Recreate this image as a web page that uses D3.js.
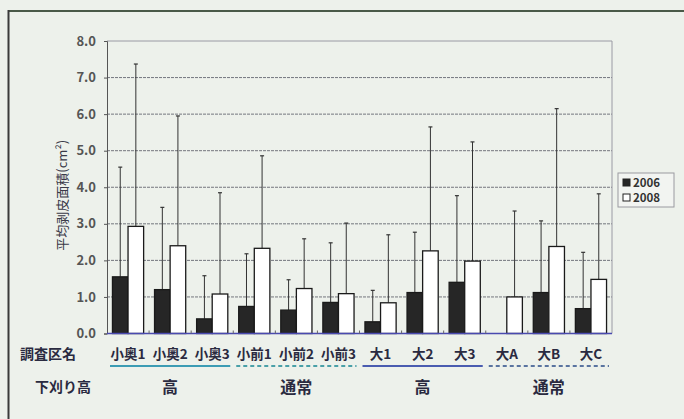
<!DOCTYPE html>
<html>
<head>
<meta charset="utf-8">
<script src="https://cdn.jsdelivr.net/npm/d3@7"></script>
<style>
  html, body { margin: 0; padding: 0; background: #edf1eb; }
  svg { display: block; }
  text { font-family: "Noto Sans CJK JP", "Noto Sans", sans-serif; }
</style>
</head>
<body>
<svg id="chart" width="684" height="419"></svg>
<script>
// Survey plots and their mean bark-stripped area (cm²); upper = mean + SD
const categories = ["小奥1", "小奥2", "小奥3", "小前1", "小前2", "小前3", "大1", "大2", "大3", "大A", "大B", "大C"];
const mean2006 = [1.55, 1.20, 0.40, 0.74, 0.64, 0.85, 0.32, 1.12, 1.40, 0, 1.12, 0.68];
const upper2006 = [4.55, 3.45, 1.58, 2.18, 1.47, 2.48, 1.18, 2.77, 3.77, null, 3.08, 2.22];
const mean2008 = [2.93, 2.40, 1.08, 2.33, 1.23, 1.09, 0.84, 2.26, 1.98, 1.00, 2.38, 1.48];
const upper2008 = [7.37, 5.95, 3.85, 4.86, 2.59, 3.02, 2.70, 5.65, 5.24, 3.35, 6.15, 3.82];
const yTicks = [0, 1, 2, 3, 4, 5, 6, 7, 8];
const seriesNames = ["2006", "2008"];
// Undergrowth-cutting height groups
const groups = [
  { label: "高", from: 0, to: 2, dashed: false, color: "#3c9cb4" },
  { label: "通常", from: 3, to: 5, dashed: true, color: "#4aa0a8" },
  { label: "高", from: 6, to: 8, dashed: false, color: "#4a5cb0" },
  { label: "通常", from: 9, to: 11, dashed: true, color: "#5a74a0" }
];

const svg = d3.select("#chart");
const plot = { left: 107, right: 612, top: 41, bottom: 333.5 };

const x = d3.scaleBand().domain(categories).range([plot.left, plot.right]).paddingInner(0).paddingOuter(0);
const xs = d3.scaleBand().domain(seriesNames).range([0, x.bandwidth()]).paddingInner(0).paddingOuter(0.35);
const y = d3.scaleLinear().domain([0, 8]).range([plot.bottom, plot.top]);

// outer frame (top and left edges)
svg.append("line").attr("x1", 8).attr("x2", 684).attr("y1", 11).attr("y2", 11)
  .attr("stroke", "#4a5a48").attr("stroke-width", 2);
svg.append("line").attr("x1", 8.5).attr("x2", 8.5).attr("y1", 10).attr("y2", 419)
  .attr("stroke", "#3a3a3a").attr("stroke-width", 2);

// gridlines
svg.append("g").selectAll("line").data(yTicks.filter(d => d > 0)).join("line")
  .attr("x1", plot.left).attr("x2", plot.right)
  .attr("y1", d => y(d)).attr("y2", d => y(d))
  .attr("stroke", d => d === 8 ? "#9a9aa4" : "#74767e")
  .attr("stroke-width", 1)
  .attr("stroke-dasharray", d => d === 8 ? null : "3,1");

// plot border (right side)
svg.append("line").attr("x1", plot.right).attr("x2", plot.right).attr("y1", plot.top).attr("y2", plot.bottom)
  .attr("stroke", "#9a9aa4").attr("stroke-width", 1);

// y axis
const yAxis = d3.axisLeft(y).tickValues(yTicks).tickFormat(d3.format(".1f")).tickSize(3).tickPadding(8);
const gy = svg.append("g").attr("transform", `translate(${plot.left},0)`).call(yAxis);
gy.select(".domain").attr("stroke", "#555");
gy.selectAll(".tick line").attr("stroke", "#555");
gy.selectAll("text").attr("font-size", 13).attr("font-weight", "bold").attr("fill", "#555")
  .attr("font-family", "Liberation Sans, Arial, sans-serif");

// y axis title
svg.append("text")
  .attr("transform", `translate(67,${(plot.top + plot.bottom) / 2 + 8}) rotate(-90)`)
  .attr("text-anchor", "middle")
  .attr("font-size", 13).attr("fill", "#3a3a48")
  .text("平均剥皮面積(cm²)");

// bars
const series = [
  { name: "2006", mean: mean2006, upper: upper2006, fill: "#262626" },
  { name: "2008", mean: mean2008, upper: upper2008, fill: "#ffffff" }
];

series.forEach(s => {
  const g = svg.append("g");
  const rows = categories.map((c, i) => ({ c, m: s.mean[i], u: s.upper[i] }));
  // error bars (upper only)
  g.selectAll("line.err").data(rows.filter(r => r.u != null)).join("line")
    .attr("class", "err")
    .attr("x1", r => x(r.c) + xs(s.name) + xs.bandwidth() / 2)
    .attr("x2", r => x(r.c) + xs(s.name) + xs.bandwidth() / 2)
    .attr("y1", r => y(r.m)).attr("y2", r => y(r.u))
    .attr("stroke", "#333").attr("stroke-width", 1);
  g.selectAll("line.cap").data(rows.filter(r => r.u != null)).join("line")
    .attr("class", "cap")
    .attr("x1", r => x(r.c) + xs(s.name) + xs.bandwidth() / 2 - 2)
    .attr("x2", r => x(r.c) + xs(s.name) + xs.bandwidth() / 2 + 2)
    .attr("y1", r => y(r.u)).attr("y2", r => y(r.u))
    .attr("stroke", "#333").attr("stroke-width", 1.2);
  g.selectAll("rect").data(rows.filter(r => r.m > 0)).join("rect")
    .attr("x", r => x(r.c) + xs(s.name))
    .attr("width", xs.bandwidth())
    .attr("y", r => y(r.m))
    .attr("height", r => y(0) - y(r.m))
    .attr("fill", s.fill)
    .attr("stroke", "#1a1a1a").attr("stroke-width", 1.3);
});

// x axis baseline with small category ticks
svg.append("line").attr("x1", plot.left).attr("x2", plot.right).attr("y1", plot.bottom).attr("y2", plot.bottom)
  .attr("stroke", "#4a4ab0").attr("stroke-width", 1.4);
svg.append("g").selectAll("line").data(categories.slice(1)).join("line")
  .attr("x1", d => x(d)).attr("x2", d => x(d))
  .attr("y1", plot.bottom).attr("y2", plot.bottom - 3)
  .attr("stroke", "#666");

// category labels
svg.append("g").selectAll("text").data(categories).join("text")
  .attr("x", d => x(d) + x.bandwidth() / 2)
  .attr("y", 359)
  .attr("text-anchor", "middle")
  .attr("font-size", 13.5).attr("font-weight", "bold").attr("fill", "#2a2a40")
  .text(d => d);

svg.append("text").attr("x", 20).attr("y", 359).attr("font-size", 14).attr("font-weight", "bold")
  .attr("fill", "#2a2a40").text("調査区名");
svg.append("text").attr("x", 35).attr("y", 392).attr("font-size", 14).attr("font-weight", "bold")
  .attr("fill", "#2a2a40").text("下刈り高");

// group underlines and labels
groups.forEach(gr => {
  const x0 = x(categories[gr.from]) + 3;
  const x1 = x(categories[gr.to]) + x.bandwidth() - 3;
  svg.append("line").attr("x1", x0).attr("x2", x1).attr("y1", 366).attr("y2", 366)
    .attr("stroke", gr.color).attr("stroke-width", 2)
    .attr("stroke-dasharray", gr.dashed ? "4,3" : null);
  svg.append("text").attr("x", (x0 + x1) / 2).attr("y", 393)
    .attr("text-anchor", "middle").attr("font-size", 16).attr("font-weight", "bold")
    .attr("fill", "#2a2a40").text(gr.label);
});

// legend
const lg = svg.append("g").attr("transform", "translate(618,173)");
lg.append("rect").attr("width", 56).attr("height", 34).attr("fill", "#f2f4f1")
  .attr("stroke", "#9a9aa0").attr("stroke-width", 1);
series.forEach((s, i) => {
  lg.append("rect").attr("x", 5).attr("y", 6 + i * 15).attr("width", 7).attr("height", 7)
    .attr("fill", s.fill).attr("stroke", "#222").attr("stroke-width", 1);
  lg.append("text").attr("x", 15).attr("y", 14 + i * 15).attr("font-size", 11.5).attr("font-weight", "bold")
    .attr("font-family", "Liberation Sans, Arial, sans-serif")
    .attr("fill", "#333").text(s.name);
});
</script>
</body>
</html>
